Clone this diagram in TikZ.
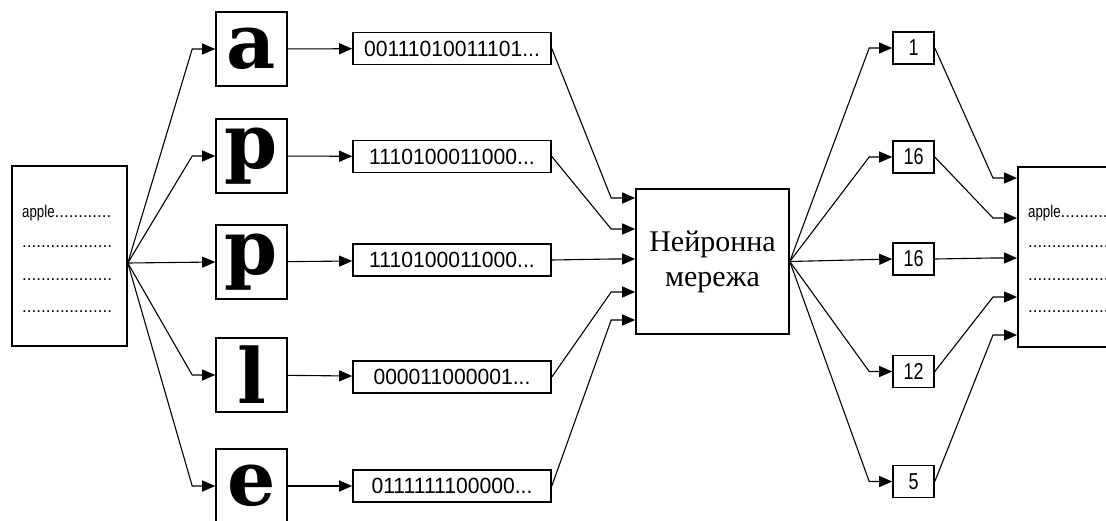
\documentclass[tikz,border=0pt]{standalone}
\usepackage{fontspec}
\setmainfont{Liberation Serif}
\newfontfamily\vuzkyi[FakeStretch=0.78]{Liberation Sans}
\newfontfamily\bitShryft[FakeStretch=0.96]{Liberation Sans}
\newfontfamily\krapky{Liberation Sans}
\newfontfamily\literaShryft{DejaVu Serif}
\usetikzlibrary{arrows.meta}

\newcommand{\kutVidstup}{23pt}
\newcommand{\rjadok}[1]{{\vuzkyi #1}}
\tikzset{
	kadr/.style={draw,line width=1.6pt,inner sep=0pt},
	strilka/.style={line width=1.1pt,-{Triangle[length=13pt,width=11pt]}},
	dokument/.style={kadr,minimum width=115pt,minimum height=180pt},
	litera/.style={kadr,minimum width=71pt,minimum height=74pt,font=\literaShryft\bfseries\fontsize{76}{76}\selectfont},
	bity/.style={kadr,minimum width=198pt,minimum height=32pt,font=\bitShryft\fontsize{22}{22}\selectfont},
	chyslo/.style={kadr,minimum width=41pt,minimum height=32pt,font=\vuzkyi\fontsize{23}{23}\selectfont},
	tekst/.style={anchor=west,inner sep=0pt,font=\krapky\fontsize{17}{17}\selectfont}
}

\begin{document}
\begin{tikzpicture}[x=1pt,y=-1pt]
	\clip (0,0) rectangle (1106,520);
	\fill[white] (0,0) rectangle (1106,520);
	% вхідний документ
	\node[dokument] (dokVhid) at (69.5,256) {};
	\node[tekst] (v1) at (22,213) {\rjadok{apple}............};
	\node[tekst] (v2) at (22,247) {...................};
	\node[tekst] (v3) at (22,280) {...................};
	\node[tekst] (v4) at (22,312) {...................};
	\coordinate (vhid) at ([yshift=-7pt]dokVhid.east);
	% літери
	\node[litera] (lA) at (251.5,49) {a};
	\node[litera] (lP1) at (251.5,156) {p};
	\node[litera] (lP2) at (251.5,262) {p};
	\node[litera] (lL) at (251.5,375) {l};
	\node[litera] (lE) at (251.5,486) {e};
	% двійкові коди
	\node[bity] (bA) at (452,48.5) {00111010011101...};
	\node[bity] (bP1) at (452,156.5) {1110100011000...};
	\node[bity] (bP2) at (452,260) {1110100011000...};
	\node[bity] (bL) at (452,377) {000011000001...};
	\node[bity] (bE) at (452,486) {0111111100000...};
	% нейронна мережа
	\node[kadr,minimum width=153pt,minimum height=145pt,align=center,
		font=\fontsize{30}{35}\selectfont] (merezha) at (712.5,261.5) {Нейронна\\мережа};
	\coordinate (m1) at ([yshift=63.5pt]merezha.west);
	\coordinate (m2) at ([yshift=32.5pt]merezha.west);
	\coordinate (m3) at ([yshift=2.5pt]merezha.west);
	\coordinate (m4) at ([yshift=-30.5pt]merezha.west);
	\coordinate (m5) at ([yshift=-58.5pt]merezha.west);
	% вихідні числа
	\node[chyslo] (n1) at (913.5,48) {1};
	\node[chyslo] (n2) at (913.5,157) {16};
	\node[chyslo] (n3) at (913.5,259) {16};
	\node[chyslo] (n4) at (913.5,371.5) {12};
	\node[chyslo] (n5) at (913.5,481.5) {5};
	% вихідний документ
	\node[dokument,anchor=west] (dokVyhid) at (1017,257) {};
	\node[tekst] (w1) at (1028,213) {\rjadok{apple}............};
	\node[tekst] (w2) at (1028,247) {...................};
	\node[tekst] (w3) at (1028,280) {...................};
	\node[tekst] (w4) at (1028,312) {...................};
	\coordinate (d1) at ([yshift=79pt]dokVyhid.west);
	\coordinate (d2) at ([yshift=39pt]dokVyhid.west);
	\coordinate (d3) at ([yshift=-1pt]dokVyhid.west);
	\coordinate (d4) at ([yshift=-40pt]dokVyhid.west);
	\coordinate (d5) at ([yshift=-78pt]dokVyhid.west);
	% документ -> літери
	\draw[strilka] (vhid) -- ([xshift=-\kutVidstup]lA.west) -- (lA.west);
	\draw[strilka] (vhid) -- ([xshift=-\kutVidstup]lP1.west) -- (lP1.west);
	\draw[strilka] (vhid) -- (lP2.west);
	\draw[strilka] (vhid) -- ([xshift=-\kutVidstup]lL.west) -- (lL.west);
	\draw[strilka] (vhid) -- ([xshift=-\kutVidstup]lE.west) -- (lE.west);
	% літери -> коди
	\draw[strilka] (lA) -- (bA);
	\draw[strilka] (lP1) -- (bP1);
	\draw[strilka] (lP2) -- (bP2);
	\draw[strilka] (lL) -- (bL);
	\draw[strilka] (lE) -- (bE);
	% коди -> мережа
	\draw[strilka] (bA.east) -- ([xshift=-24pt]m1) -- (m1);
	\draw[strilka] (bP1.east) -- ([xshift=-24pt]m2) -- (m2);
	\draw[strilka] (bP2.east) -- ([xshift=-24pt]m3) -- (m3);
	\draw[strilka] (bL.east) -- ([xshift=-24pt]m4) -- (m4);
	\draw[strilka] (bE.east) -- ([xshift=-24pt]m5) -- (m5);
	% мережа -> числа
	\draw[strilka] (merezha.east) -- ([xshift=-\kutVidstup]n1.west) -- (n1.west);
	\draw[strilka] (merezha.east) -- ([xshift=-\kutVidstup]n2.west) -- (n2.west);
	\draw[strilka] (merezha.east) -- (n3.west);
	\draw[strilka] (merezha.east) -- ([xshift=-\kutVidstup]n4.west) -- (n4.west);
	\draw[strilka] (merezha.east) -- ([xshift=-\kutVidstup]n5.west) -- (n5.west);
	% числа -> документ
	\draw[strilka] (n1.east) -- ([xshift=-24pt]d1) -- (d1);
	\draw[strilka] (n2.east) -- ([xshift=-24pt]d2) -- (d2);
	\draw[strilka] (n3.east) -- ([xshift=-24pt]d3) -- (d3);
	\draw[strilka] (n4.east) -- ([xshift=-24pt]d4) -- (d4);
	\draw[strilka] (n5.east) -- ([xshift=-24pt]d5) -- (d5);
\end{tikzpicture}
\end{document}
